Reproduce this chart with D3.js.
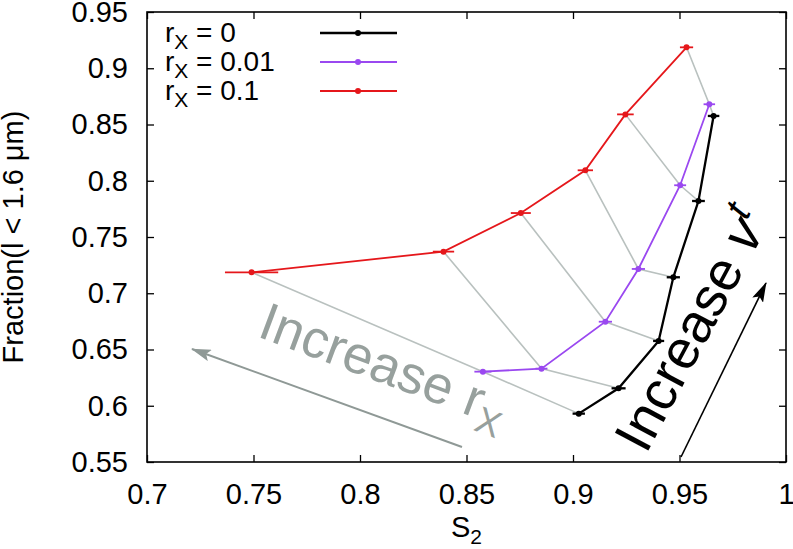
<!DOCTYPE html>
<html><head><meta charset="utf-8">
<script src="https://cdn.jsdelivr.net/npm/d3@7"></script>
<style>
body{margin:0;background:#fff;}
text{font-family:"Liberation Sans",Arial,Helvetica,sans-serif;}
</style></head>
<body><svg id="c" width="793" height="549"></svg>
<script>
// ---- data ----
const xTicks = [0.7, 0.75, 0.8, 0.85, 0.9, 0.95, 1];
const yTicks = [0.55, 0.6, 0.65, 0.7, 0.75, 0.8, 0.85, 0.9, 0.95];
const seriesNames = ["0", "0.01", "0.1"];
const seriesColors = ["#000000", "#9a48f0", "#e5171b"];
// r_X = 0
const s2_r0   = [0.9027, 0.9214, 0.9402, 0.9471, 0.9589, 0.9660];
const frac_r0 = [0.5930, 0.6155, 0.6576, 0.7142, 0.7820, 0.8576];
const err_r0  = [0.0029, 0.0033, 0.0026, 0.0031, 0.0030, 0.0027];
// r_X = 0.01
const s2_r1   = [0.8577, 0.8852, 0.9152, 0.9307, 0.9503, 0.9640];
const frac_r1 = [0.6303, 0.6330, 0.6747, 0.7216, 0.7960, 0.8680];
const err_r1  = [0.0040, 0.0028, 0.0031, 0.0031, 0.0028, 0.0027];
// r_X = 0.1
const s2_r2   = [0.7491, 0.8392, 0.8755, 0.9058, 0.9246, 0.9533];
const frac_r2 = [0.7186, 0.7370, 0.7713, 0.8093, 0.8590, 0.9186];
const err_r2  = [0.0125, 0.0050, 0.0047, 0.0036, 0.0039, 0.0031];

const xs = [s2_r0, s2_r1, s2_r2], ys = [frac_r0, frac_r1, frac_r2], es = [err_r0, err_r1, err_r2];

// ---- layout ----
const L = 147, R = 786, T = 12, B = 462;
const svg = d3.select("#c");
const x = d3.scaleLinear().domain([0.7, 1]).range([L, R]);
const y = d3.scaleLinear().domain([0.55, 0.95]).range([B, T]);
const FS = 29;

// axes
const gx = svg.append("g").attr("transform", `translate(0,${B})`)
  .call(d3.axisBottom(x).tickValues(xTicks).tickFormat(d => String(d)).tickSizeInner(-7).tickSizeOuter(0).tickPadding(21));
const gxt = svg.append("g").attr("transform", `translate(0,${T})`)
  .call(d3.axisTop(x).tickValues(xTicks).tickFormat("").tickSizeInner(-7).tickSizeOuter(0));
const gy = svg.append("g").attr("transform", `translate(${L},0)`)
  .call(d3.axisLeft(y).tickValues(yTicks).tickFormat(d => String(d)).tickSizeInner(-7).tickSizeOuter(0).tickPadding(19));
const gyr = svg.append("g").attr("transform", `translate(${R},0)`)
  .call(d3.axisRight(y).tickValues(yTicks).tickFormat("").tickSizeInner(-7).tickSizeOuter(0));
[gx, gxt, gy, gyr].forEach(g => {
  g.select(".domain").remove();
  g.selectAll("line").attr("stroke", "#000").attr("stroke-width", 1.3);
  g.selectAll("text").attr("font-size", FS).attr("fill", "#000")
    .style("font-family", '"Liberation Sans",Arial,sans-serif');
});
gx.selectAll("text").attr("dy", "0.72em");
svg.append("rect").attr("x", L).attr("y", T).attr("width", R - L).attr("height", B - T)
  .attr("fill", "none").attr("stroke", "#000").attr("stroke-width", 1.6);

// axis titles
svg.append("text").attr("x", (L + R) / 2).attr("y", 537).attr("text-anchor", "middle")
  .attr("font-size", FS).html('S<tspan dy="7" font-size="21">2</tspan>');
svg.append("text").attr("transform", `translate(23,${(T + B) / 2}) rotate(-90)`)
  .attr("text-anchor", "middle").attr("font-size", FS).text("Fraction(l < 1.6 μm)");

// grey connectors (same index across series)
const conn = d3.line().x(d => x(d[0])).y(d => y(d[1]));
for (let i = 0; i < s2_r0.length; i++) {
  const pts = [[s2_r2[i], frac_r2[i]], [s2_r1[i], frac_r1[i]], [s2_r0[i], frac_r0[i]]];
  svg.append("path").attr("d", conn(pts)).attr("fill", "none")
    .attr("stroke", "#b9c1bf").attr("stroke-width", 1.6);
}

// series
for (let s = 0; s < 3; s++) {
  const pts = xs[s].map((v, i) => [v, ys[s][i]]);
  const col = seriesColors[s];
  const sw = s === 0 ? 2.3 : 1.8;
  svg.append("path").attr("d", conn(pts)).attr("fill", "none").attr("stroke", col).attr("stroke-width", sw);
  const g = svg.append("g");
  pts.forEach((p, i) => {
    const e = es[s][i];
    g.append("line").attr("x1", x(p[0] - e)).attr("x2", x(p[0] + e)).attr("y1", y(p[1])).attr("y2", y(p[1]))
      .attr("stroke", col).attr("stroke-width", sw);
    g.append("circle").attr("cx", x(p[0])).attr("cy", y(p[1])).attr("r", 3).attr("fill", col);
  });
}

// legend
const legY = [33, 62, 91];
for (let s = 0; s < 3; s++) {
  const t = svg.append("text").attr("x", 165).attr("y", legY[s] + 9).attr("font-size", 28);
  t.append("tspan").text("r");
  t.append("tspan").attr("dy", 7).attr("font-size", 21).text("X");
  t.append("tspan").attr("dy", -7).text(" = " + seriesNames[s]);
  svg.append("line").attr("x1", 320).attr("x2", 397).attr("y1", legY[s]).attr("y2", legY[s])
    .attr("stroke", seriesColors[s]).attr("stroke-width", s === 0 ? 2.3 : 1.8);
  svg.append("circle").attr("cx", 358).attr("cy", legY[s]).attr("r", 3).attr("fill", seriesColors[s]);
}

// annotations
const defs = svg.append("defs");
defs.append("marker").attr("id", "ag").attr("viewBox", "0 0 20 12").attr("refX", 19).attr("refY", 6)
  .attr("markerWidth", 20).attr("markerHeight", 12).attr("markerUnits", "userSpaceOnUse")
  .attr("orient", "auto").append("path").attr("d", "M0,0 L20,6 L0,12 L4,6 z").attr("fill", "#8f9996");
defs.append("marker").attr("id", "ab").attr("viewBox", "0 0 20 12").attr("refX", 19).attr("refY", 6)
  .attr("markerWidth", 20).attr("markerHeight", 12).attr("markerUnits", "userSpaceOnUse")
  .attr("orient", "auto").append("path").attr("d", "M0,0 L20,6 L0,12 L4,6 z").attr("fill", "#000");

svg.append("line").attr("x1", 462).attr("y1", 447).attr("x2", 192).attr("y2", 349)
  .attr("stroke", "#8f9996").attr("stroke-width", 2).attr("marker-end", "url(#ag)");
const tg = svg.append("text").attr("transform", "translate(256,336) rotate(20.5)")
  .attr("font-size", 53).attr("fill", "#97a09d");
tg.append("tspan").text("Increase r");
tg.append("tspan").attr("dy", 12).attr("font-size", 37).text("X");

svg.append("line").attr("x1", 681).attr("y1", 457).attr("x2", 766).attr("y2", 283)
  .attr("stroke", "#000").attr("stroke-width", 1.6).attr("marker-end", "url(#ab)");
const tb = svg.append("text").attr("transform", "translate(646,455) rotate(-62)")
  .attr("font-size", 55).attr("fill", "#000");
tb.append("tspan").text("Increase ");
tb.append("tspan").attr("font-style", "italic").text("v");
tb.append("tspan").attr("dy", -21).attr("font-size", 38).attr("font-style", "italic").text("t");
</script></body></html>
